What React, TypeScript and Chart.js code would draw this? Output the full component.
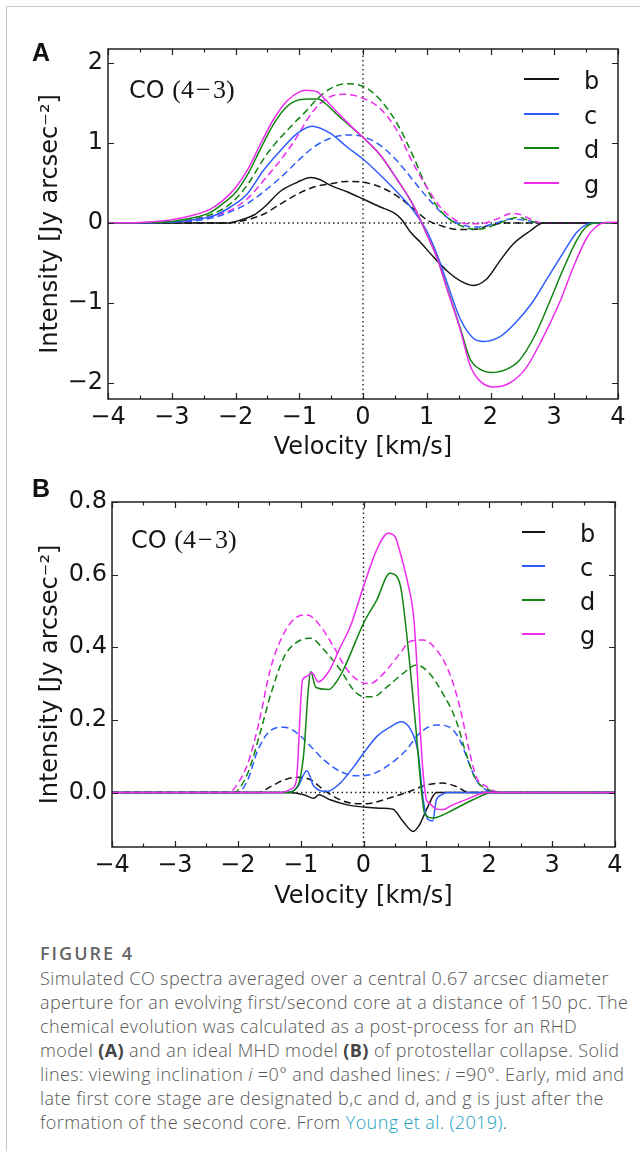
import React, { useEffect, useRef } from 'react';
import { Chart, registerables } from 'chart.js';
Chart.register(...registerables);

// ---------- shared axis data ----------
const xTickValues = [-4, -3, -2, -1, 0, 1, 2, 3, 4];
const xTickLabels = ['−4', '−3', '−2', '−1', '0', '1', '2', '3', '4'];
const xMinorValues = [-3.5, -2.5, -1.5, -0.5, 0.5, 1.5, 2.5, 3.5];
const seriesNames = ['b', 'c', 'd', 'g'];
const seriesColors = ['#151515', '#2f5cff', '#118411', '#ee2cee'];

// ---------- panel A (RHD) : [velocity, intensity] ----------
const aYTickValues = [-2, -1, 0, 1, 2];
const aYTickLabels = ['−2', '−1', '0', '1', '2'];
const aSolidB = [[-4,0],[-2.1,0],[-1.95,0.03],[-1.87,0.05],[-1.71,0.1],[-1.56,0.19],[-1.29,0.4],[-1.03,0.51],[-0.82,0.57],[-0.67,0.54],[-0.51,0.47],[-0.25,0.39],[0,0.3],[0.27,0.2],[0.48,0.13],[0.6,0.05],[0.75,-0.12],[0.9,-0.24],[1.1,-0.42],[1.32,-0.6],[1.52,-0.72],[1.73,-0.78],[1.94,-0.7],[2.15,-0.47],[2.36,-0.26],[2.62,-0.1],[2.83,0],[4,0]];
const aSolidC = [[-4,0],[-3.2,0.005],[-2.86,0.02],[-2.5,0.06],[-2.34,0.09],[-2.08,0.2],[-1.82,0.36],[-1.56,0.66],[-1.29,0.91],[-1.03,1.12],[-0.8,1.21],[-0.51,1.12],[-0.25,0.95],[0,0.8],[0.27,0.6],[0.53,0.39],[0.79,0.155],[1.0,-0.1],[1.16,-0.39],[1.32,-0.75],[1.52,-1.19],[1.73,-1.44],[1.9,-1.48],[2.15,-1.42],[2.4,-1.24],[2.65,-1.0],[2.9,-0.68],[3.15,-0.36],[3.35,-0.12],[3.5,-0.02],[3.6,0],[4,0]];
const aSolidD = [[-4,0],[-3.4,0.005],[-3.0,0.02],[-2.7,0.06],[-2.4,0.13],[-2.2,0.24],[-2.0,0.38],[-1.8,0.62],[-1.6,0.94],[-1.4,1.24],[-1.2,1.45],[-1.0,1.54],[-0.85,1.55],[-0.7,1.55],[-0.6,1.5],[-0.4,1.35],[-0.2,1.21],[0,1.07],[0.27,0.85],[0.53,0.55],[0.79,0.22],[1.0,-0.14],[1.16,-0.43],[1.32,-0.82],[1.52,-1.3],[1.68,-1.7],[1.84,-1.83],[2.0,-1.87],[2.25,-1.83],[2.45,-1.72],[2.7,-1.4],[2.92,-1.0],[3.15,-0.56],[3.35,-0.22],[3.5,-0.05],[3.65,0],[4,0]];
const aSolidG = [[-4,0],[-3.4,0.01],[-3.0,0.04],[-2.7,0.09],[-2.4,0.17],[-2.2,0.28],[-2.0,0.44],[-1.8,0.68],[-1.6,1.0],[-1.4,1.3],[-1.2,1.52],[-1.0,1.64],[-0.9,1.66],[-0.72,1.64],[-0.6,1.55],[-0.4,1.38],[-0.2,1.22],[0,1.07],[0.27,0.85],[0.53,0.55],[0.79,0.22],[1.0,-0.14],[1.16,-0.43],[1.32,-0.83],[1.52,-1.32],[1.68,-1.78],[1.84,-1.98],[2.05,-2.05],[2.3,-2.0],[2.55,-1.82],[2.8,-1.47],[3.08,-1.0],[3.3,-0.55],[3.5,-0.2],[3.65,-0.05],[3.8,0.005],[4,0.01]];
const aDashB = [[-4,0],[-2.2,0],[-1.87,0.03],[-1.56,0.11],[-1.29,0.24],[-1.03,0.36],[-0.77,0.45],[-0.51,0.49],[-0.25,0.52],[0,0.51],[0.27,0.45],[0.53,0.34],[0.79,0.18],[1.0,0.04],[1.21,-0.03],[1.47,-0.08],[1.73,-0.08],[1.99,-0.03],[2.25,0],[4,0]];
const aDashC = [[-4,0],[-3.2,0.003],[-2.86,0.01],[-2.34,0.07],[-2.08,0.14],[-1.82,0.24],[-1.56,0.39],[-1.29,0.57],[-1.03,0.77],[-0.77,0.95],[-0.51,1.06],[-0.25,1.1],[0,1.08],[0.27,0.97],[0.53,0.78],[0.79,0.53],[1.05,0.28],[1.32,0.07],[1.58,-0.03],[1.79,-0.05],[2.05,-0.01],[2.31,0.05],[2.57,0.03],[2.78,0],[4,0]];
const aDashD = [[-4,0],[-3.2,0.005],[-2.86,0.02],[-2.6,0.06],[-2.34,0.12],[-2.08,0.24],[-1.82,0.47],[-1.5,0.87],[-1.14,1.2],[-0.88,1.41],[-0.72,1.55],[-0.51,1.68],[-0.28,1.74],[0,1.71],[0.27,1.54],[0.53,1.25],[0.79,0.83],[0.95,0.53],[1.1,0.28],[1.32,0.07],[1.58,-0.05],[1.79,-0.08],[2.05,-0.03],[2.31,0.05],[2.45,0.07],[2.6,0.03],[2.8,0],[4,0]];
const aDashG = [[-4,0],[-3.2,0.005],[-2.86,0.02],[-2.6,0.05],[-2.34,0.09],[-2.08,0.16],[-1.82,0.3],[-1.56,0.53],[-1.14,0.95],[-0.77,1.41],[-0.56,1.56],[-0.3,1.61],[0,1.56],[0.27,1.43],[0.53,1.16],[0.79,0.74],[1.0,0.45],[1.21,0.2],[1.42,0.05],[1.63,-0.01],[1.84,-0.01],[2.1,0.05],[2.33,0.12],[2.45,0.11],[2.6,0.06],[2.8,0],[4,0]];

// ---------- panel B (ideal MHD) : [velocity, intensity] ----------
const bYTickValues = [0, 0.2, 0.4, 0.6, 0.8];
const bYTickLabels = ['0.0', '0.2', '0.4', '0.6', '0.8'];
const bSolidB = [[-4,0],[-1.21,0],[-0.95,-0.006],[-0.79,-0.016],[-0.71,-0.006],[-0.53,-0.02],[-0.26,-0.034],[0,-0.04],[0.26,-0.043],[0.47,-0.046],[0.63,-0.08],[0.79,-0.107],[0.89,-0.089],[1.0,-0.048],[1.16,0],[4,0]];
const bSolidC = [[-4,0],[-1.21,0],[-1.05,0.015],[-0.9,0.06],[-0.79,0.017],[-0.58,0.003],[-0.37,0.026],[-0.16,0.07],[0,0.108],[0.21,0.154],[0.42,0.18],[0.6,0.195],[0.76,0.17],[0.87,0.108],[0.95,-0.02],[1.03,-0.075],[1.1,-0.078],[1.16,-0.02],[1.25,-0.006],[1.32,0],[4,0]];
const bSolidD = [[-4,0],[-1.21,0],[-1.05,0.017],[-0.95,0.108],[-0.88,0.28],[-0.84,0.333],[-0.76,0.29],[-0.55,0.284],[-0.45,0.3],[-0.32,0.338],[0,0.466],[0.21,0.53],[0.42,0.604],[0.53,0.595],[0.6,0.558],[0.74,0.347],[0.84,0.163],[0.92,0.007],[0.97,-0.057],[1.1,-0.07],[1.42,-0.048],[1.74,-0.02],[2.05,0],[4,0]];
const bSolidG = [[-4,0],[-1.3,0],[-1.15,0.01],[-1.07,0.03],[-0.97,0.31],[-0.9,0.32],[-0.82,0.33],[-0.72,0.305],[-0.53,0.34],[-0.37,0.4],[-0.21,0.457],[0,0.567],[0.21,0.668],[0.39,0.714],[0.5,0.705],[0.6,0.65],[0.7,0.58],[0.8,0.48],[0.85,0.35],[0.9,0.18],[0.95,0.05],[1.0,-0.02],[1.05,-0.03],[1.15,-0.045],[1.25,-0.047],[1.42,-0.034],[1.68,-0.016],[1.95,0],[4,0]];
const bDashB = [[-4,0],[-1.68,0],[-1.47,0.017],[-1.26,0.035],[-1.05,0.042],[-0.84,0.035],[-0.63,0.007],[-0.42,-0.016],[-0.16,-0.03],[0.05,-0.031],[0.32,-0.02],[0.58,-0.006],[0.79,0.007],[1.0,0.021],[1.26,0.026],[1.47,0.017],[1.68,0],[4,0]];
const bDashC = [[-4,0],[-2.0,0],[-1.84,0.035],[-1.68,0.117],[-1.47,0.172],[-1.26,0.18],[-1.05,0.163],[-0.84,0.127],[-0.63,0.09],[-0.37,0.058],[-0.1,0.046],[0.1,0.049],[0.37,0.072],[0.68,0.117],[0.89,0.163],[1.16,0.186],[1.37,0.18],[1.53,0.145],[1.68,0.08],[1.79,0.035],[1.95,0.007],[2.05,0],[4,0]];
const bDashD = [[-4,0],[-2.05,0],[-1.97,0.012],[-1.82,0.062],[-1.66,0.154],[-1.47,0.273],[-1.26,0.374],[-1.0,0.42],[-0.84,0.425],[-0.63,0.393],[-0.37,0.338],[-0.16,0.283],[0,0.264],[0.16,0.264],[0.37,0.29],[0.63,0.328],[0.84,0.351],[1.05,0.328],[1.26,0.273],[1.47,0.2],[1.63,0.108],[1.79,0.035],[2.0,0.007],[2.1,0],[4,0]];
const bDashG = [[-4,0],[-2.15,0],[-2.03,0.017],[-1.84,0.08],[-1.68,0.18],[-1.47,0.347],[-1.26,0.44],[-1.05,0.484],[-0.89,0.489],[-0.68,0.457],[-0.47,0.4],[-0.26,0.338],[-0.05,0.305],[0.1,0.3],[0.32,0.328],[0.58,0.383],[0.74,0.416],[0.95,0.42],[1.16,0.393],[1.37,0.328],[1.53,0.237],[1.68,0.117],[1.79,0.044],[1.95,0.017],[2.1,0.003],[2.2,0],[4,0]];

const FONT = 'DejaVu Sans';
const INK = '#151515';

type Pair = number[];

function makeFramePlugin(yTicks: number[]) {
  return {
    id: 'frameTicks',
    afterDatasetsDraw(chart: any) {
      const { ctx, chartArea, scales } = chart;
      const { left, right, top, bottom } = chartArea;
      const x = scales.x, y = scales.y;
      ctx.save();
      ctx.strokeStyle = '#222';
      ctx.lineWidth = 1.5;
      ctx.strokeRect(left, top, right - left, bottom - top);
      ctx.lineWidth = 1.2;
      ctx.beginPath();
      for (const v of xTickValues) {
        const px = Math.round(x.getPixelForValue(v)) + 0.5;
        ctx.moveTo(px, bottom); ctx.lineTo(px, bottom - 6);
        ctx.moveTo(px, top); ctx.lineTo(px, top + 6);
      }
      for (const v of xMinorValues) {
        const px = Math.round(x.getPixelForValue(v)) + 0.5;
        ctx.moveTo(px, bottom); ctx.lineTo(px, bottom - 3.5);
        ctx.moveTo(px, top); ctx.lineTo(px, top + 3.5);
      }
      for (const v of yTicks) {
        const py = Math.round(y.getPixelForValue(v)) + 0.5;
        ctx.moveTo(left, py); ctx.lineTo(left + 6, py);
        ctx.moveTo(right, py); ctx.lineTo(right - 6, py);
      }
      ctx.stroke();
      ctx.restore();
    },
  };
}

interface PanelProps {
  top: number; width: number; height: number;
  padTop: number; padRight: number; yAxisWidth: number; xAxisHeight: number;
  yMin: number; yMax: number; yTicks: number[]; yLabels: string[];
  solid: Pair[][]; dashed: Pair[][];
}

function SpectrumPanel(p: PanelProps) {
  const ref = useRef<HTMLCanvasElement>(null);
  useEffect(() => {
    const toPts = (arr: Pair[]) => arr.map(([x, y]) => ({ x, y }));
    const datasets: any[] = [];
    p.solid.forEach((s, i) => datasets.push({
      label: seriesNames[i] + ' (i=0°)', data: toPts(s), borderColor: seriesColors[i],
      borderWidth: 1.5, pointRadius: 0, cubicInterpolationMode: 'monotone', order: 4 - i,
    }));
    p.dashed.forEach((s, i) => datasets.push({
      label: seriesNames[i] + ' (i=90°)', data: toPts(s), borderColor: seriesColors[i],
      borderWidth: 1.5, borderDash: [7, 4], pointRadius: 0, cubicInterpolationMode: 'monotone', order: 8 - i,
    }));
    datasets.push({
      label: 'zero', data: [{ x: xTickValues[0], y: 0 }, { x: xTickValues[xTickValues.length - 1], y: 0 }],
      borderColor: '#222', borderWidth: 1.4, borderDash: [1.5, 3], pointRadius: 0, order: 20,
    });
    datasets.push({
      label: 'v0', data: [{ x: 0, y: p.yMin }, { x: 0, y: p.yMax }],
      borderColor: '#222', borderWidth: 1.4, borderDash: [1.5, 3], pointRadius: 0, order: 20,
    });
    const chart = new Chart(ref.current!, {
      type: 'line',
      data: { datasets },
      options: {
        responsive: false,
        animation: false,
        devicePixelRatio: 1,
        layout: { padding: { top: p.padTop, right: p.padRight, left: 0, bottom: 0 } },
        plugins: { legend: { display: false }, tooltip: { enabled: false } },
        scales: {
          x: {
            type: 'linear', min: -4, max: 4,
            afterFit: (s: any) => { s.height = p.xAxisHeight; },
            afterBuildTicks: (s: any) => { s.ticks = xTickValues.map((v) => ({ value: v })); },
            grid: { display: false, drawTicks: false },
            border: { display: false },
            ticks: {
              autoSkip: false, maxRotation: 0, padding: 4, color: INK,
              font: { family: FONT, size: 24 },
              callback: (_v: any, i: number) => xTickLabels[i],
            },
            title: {
              display: true, text: 'Velocity [km/s]', color: INK,
              font: { family: FONT, size: 24 }, padding: { top: 0, bottom: 0 },
            },
          },
          y: {
            type: 'linear', min: p.yMin, max: p.yMax,
            afterFit: (s: any) => { s.width = p.yAxisWidth; },
            afterBuildTicks: (s: any) => { s.ticks = p.yTicks.map((v) => ({ value: v })); },
            grid: { display: false, drawTicks: false },
            border: { display: false },
            ticks: {
              autoSkip: false, padding: 5, color: INK,
              font: { family: FONT, size: 24 },
              callback: (_v: any, i: number) => p.yLabels[i],
            },
            title: {
              display: true, text: 'Intensity [Jy arcsec⁻²]', color: INK,
              font: { family: FONT, size: 24 }, padding: { top: 36, bottom: 0 },
            },
          },
        },
      } as any,
      plugins: [makeFramePlugin(p.yTicks)],
    });
    return () => chart.destroy();
  }, []);
  return (
    <canvas ref={ref} width={p.width} height={p.height}
      style={{ position: 'absolute', left: 0, top: p.top, width: p.width, height: p.height }} />
  );
}

function Legend({ lineLeft, lineWidth, textLeft, ys }: { lineLeft: number; lineWidth: number; textLeft: number; ys: number[] }) {
  return (
    <>
      {seriesNames.map((n, i) => (
        <React.Fragment key={n}>
          <div style={{ position: 'absolute', left: lineLeft, top: ys[i] - 0.75, width: lineWidth, height: 1.5, background: seriesColors[i] }} />
          <div style={{ position: 'absolute', left: textLeft, top: ys[i] - 10.3, font: `24px "${FONT}"`, lineHeight: '24px', color: INK }}>{n}</div>
        </React.Fragment>
      ))}
    </>
  );
}

function LineLabel({ left, baseline }: { left: number; baseline: number }) {
  return (
    <div style={{ position: 'absolute', left, top: baseline - 20.3, font: `24px "${FONT}"`, lineHeight: '24px', color: INK, whiteSpace: 'nowrap' }}>
      CO <span style={{ fontFamily: '"Liberation Serif"', fontSize: 26 }}>(4&#8202;−&#8202;3)</span>
    </div>
  );
}

function PanelLetter({ text, baseline }: { text: string; baseline: number }) {
  return (
    <div style={{ position: 'absolute', left: 32, top: baseline - 21.2, font: 'bold 25px "Liberation Sans"', lineHeight: '25px', color: '#111' }}>{text}</div>
  );
}

const captionLines = [
  'Simulated CO spectra averaged over a central 0.67 arcsec diameter',
  'aperture for an evolving first/second core at a distance of 150 pc. The',
  'chemical evolution was calculated as a post-process for an RHD',
];

export default function App() {
  const capStyle: React.CSSProperties = { height: 24, lineHeight: '24px', whiteSpace: 'nowrap' };
  const boldStyle: React.CSSProperties = { fontWeight: 700, color: '#444' };
  return (
    <div style={{ position: 'absolute', left: 0, top: 0, width: 640, height: 1151, background: '#fff', overflow: 'hidden' }}>
      <div style={{ position: 'absolute', left: 6, top: 6, width: 700, height: 1200, borderLeft: '1px solid #c9c9c9', borderTop: '1px solid #c9c9c9' }} />
      <SpectrumPanel top={0} width={640} height={462} padTop={49} padRight={22} yAxisWidth={108} xAxisHeight={63}
        yMin={-2.2} yMax={2.175} yTicks={aYTickValues} yLabels={aYTickLabels}
        solid={[aSolidB, aSolidC, aSolidD, aSolidG]} dashed={[aDashB, aDashC, aDashD, aDashG]} />
      <SpectrumPanel top={470} width={640} height={441} padTop={32} padRight={25} yAxisWidth={112} xAxisHeight={64}
        yMin={-0.15} yMax={0.8} yTicks={bYTickValues} yLabels={bYTickLabels}
        solid={[bSolidB, bSolidC, bSolidD, bSolidG]} dashed={[bDashB, bDashC, bDashD, bDashG]} />
      <PanelLetter text="A" baseline={61} />
      <PanelLetter text="B" baseline={497} />
      <LineLabel left={129} baseline={98} />
      <LineLabel left={131} baseline={548} />
      <Legend lineLeft={524} lineWidth={35} textLeft={584} ys={[79, 114, 148, 183]} />
      <Legend lineLeft={522} lineWidth={23} textLeft={580} ys={[532, 566, 600, 634]} />
      <div style={{ position: 'absolute', left: 40, top: 941, fontFamily: '"Open Sans"', fontSize: 18, fontWeight: 300, letterSpacing: 0.4, color: '#575757' }}>
        <div style={{ ...capStyle, height: 25, fontWeight: 600, color: '#666', fontSize: 18, letterSpacing: 2 }}>FIGURE 4</div>
        {captionLines.map((l) => <div key={l} style={capStyle}>{l}</div>)}
        <div style={capStyle}>model <span style={boldStyle}>(A)</span> and an ideal MHD model <span style={boldStyle}>(B)</span> of protostellar collapse. Solid</div>
        <div style={capStyle}>lines: viewing inclination <i>i</i> =0° and dashed lines: <i>i</i> =90°. Early, mid and</div>
        <div style={capStyle}>late first core stage are designated b,c and d, and g is just after the</div>
        <div style={capStyle}>formation of the second core. From <span style={{ color: '#1a9fc0' }}>Young et al. (2019)</span>.</div>
      </div>
    </div>
  );
}
